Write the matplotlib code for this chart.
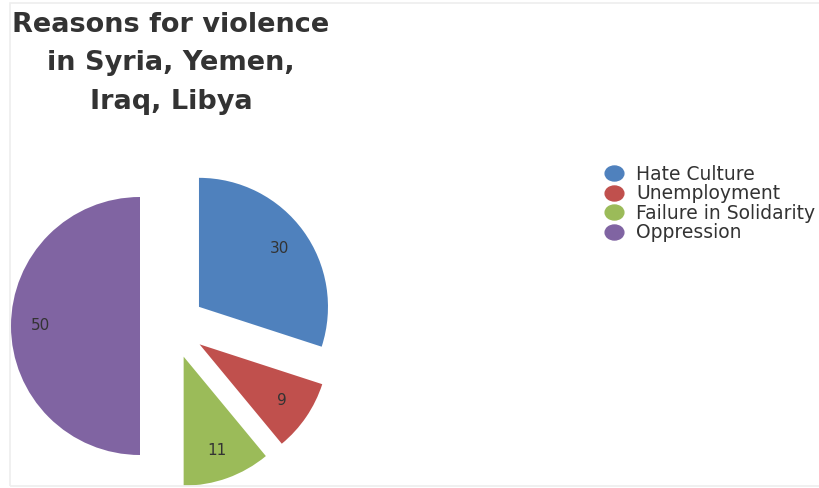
import matplotlib.pyplot as plt
from matplotlib.lines import Line2D
from matplotlib.patches import Rectangle
from matplotlib.path import Path
from matplotlib.transforms import Affine2D

# chart data
reasons = ["Hate Culture", "Unemployment", "Failure in Solidarity", "Oppression"]
counts = [30, 9, 11, 50]
colours = ["#4F81BD", "#C0504D", "#9BBB59", "#8064A2"]
title = "Reasons for violence\nin Syria, Yemen,\nIraq, Libya"

W, H = 819, 488
fig = plt.figure(figsize=(W / 100, H / 100), dpi=100)
# axes in pixel units (y measured from bottom)
ax = fig.add_axes([0, 0, 1, 1])

total = sum(counts)
R = 129
wedges, texts, autotexts = ax.pie(
    counts,
    colors=colours,
    startangle=90,
    counterclock=False,
    center=(172.6, H - 326),
    radius=R,
    explode=[32.6] * len(counts),   # pie explode is in data units here
    autopct=lambda p: "%d" % round(p * total / 100.0),
    pctdistance=0.77,
    textprops={"fontsize": 11, "color": "#333333"},
    frame=True,
)
ax.set_xlim(0, W)
ax.set_ylim(0, H)
ax.set_aspect("equal")
ax.axis("off")

# faint chart border
fig.patches.append(Rectangle((10 / W, 2 / H), 1.0, 1 - 5 / H, transform=fig.transFigure,
                             fill=False, edgecolor="#eeeeee", linewidth=1.2))

fig.text(171 / W, 1 - 12 / H, title, ha="center", va="top", fontsize=19.5,
         fontweight="bold", color="#333333", linespacing=1.62)

# legend markers are slightly wide ellipses in the reference
oval = Path.unit_circle().transformed(Affine2D().scale(1.0, 0.8))
handles = [Line2D([], [], marker=oval, linestyle="None", markersize=13.5,
                  markerfacecolor=c, markeredgecolor=c) for c in colours]
leg = ax.legend(handles, reasons, loc="upper left", bbox_to_anchor=(604.6 / W, 1 - 164.5 / H),
                bbox_transform=fig.transFigure, frameon=False, fontsize=13.5,
                handlelength=1.0, handletextpad=0.67, labelspacing=0.03,
                borderpad=0, borderaxespad=0)
for t in leg.get_texts():
    t.set_color("#333333")

fig.savefig("out.png", dpi=100)
